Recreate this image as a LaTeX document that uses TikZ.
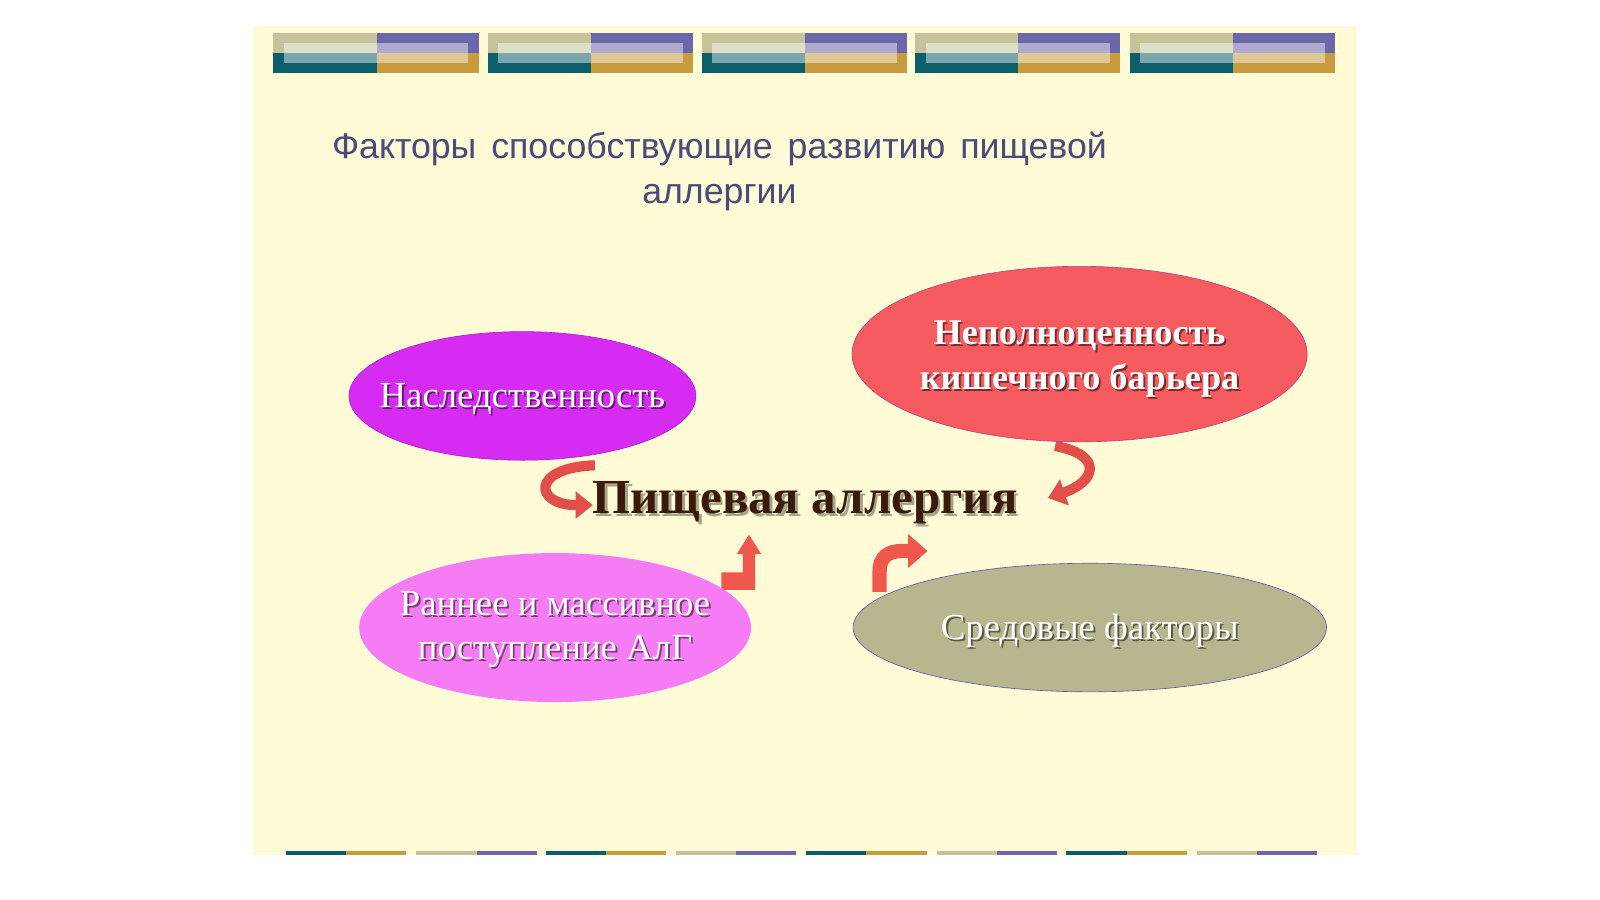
\documentclass[tikz,border=0pt]{standalone}
\usepackage{fontspec}
\setmainfont{Liberation Serif}
\newfontfamily\titlefont[WordSpace={1.5,0.5,0.5}]{Liberation Sans}
\usetikzlibrary{arrows.meta,shapes.geometric}
\definecolor{slidebg}{HTML}{FFFBD6}
\definecolor{bkhaki}{HTML}{C6C39A}
\definecolor{bblue}{HTML}{6B67A9}
\definecolor{bteal}{HTML}{0B5F6B}
\definecolor{bgold}{HTML}{C89B3E}
\definecolor{titlecol}{HTML}{4A4A7C}
\definecolor{emag}{HTML}{D62BF3}
\definecolor{ered}{HTML}{F45A5E}
\definecolor{epink}{HTML}{F67CF5}
\definecolor{ekhaki}{HTML}{B7B68F}
\definecolor{arrowred}{HTML}{F0584E}
\definecolor{curvered}{HTML}{E24E4A}
\definecolor{brown}{HTML}{3A1A0A}
\tikzset{
  blob/.style={ellipse, inner sep=0pt},
  etext/.style={text=white, align=center, font=\fontsize{36}{43}\selectfont},
  eshadow/.style={text=black, text opacity=0.5, align=center, font=\fontsize{36}{43}\selectfont},
  curvearrow/.style={draw=curvered, line width=10pt, -{Triangle[width=26pt,length=17pt]}},
  bigarrow/.style={draw=arrowred, line width=14pt, -{Triangle[width=32pt,length=19pt]}}
}
\begin{document}
\begin{tikzpicture}[x=1pt,y=-1pt]
\useasboundingbox (0,0) rectangle (1568,882);
\fill[white] (0,0) rectangle (1568,882);
\fill[slidebg] (248,25) rectangle (1330,838);

% top banner
\foreach \x in {268,478,688,897,1107}{
  \fill[bkhaki] (\x,32) rectangle (\x+101,51.5);
  \fill[bblue] (\x+101,32) rectangle (\x+201,51.5);
  \fill[bteal] (\x,51.5) rectangle (\x+101,71.5);
  \fill[bgold] (\x+101,51.5) rectangle (\x+201,71.5);
  \fill[white, opacity=0.45] (\x+10,42) rectangle (\x+191,62);
}
% bottom stripe
\foreach \x in {280,535,790,1045}{
  \fill[bteal] (\x,834) rectangle (\x+59,837.5);
  \fill[bgold] (\x+59,834) rectangle (\x+118,837.5);
}
\foreach \x in {408,662,918,1173}{
  \fill[bkhaki] (\x,834) rectangle (\x+59,837.5);
  \fill[bblue] (\x+59,834) rectangle (\x+118,837.5);
}

% title
\node[text=titlecol, align=center, font=\titlefont\fontsize{35}{44}\selectfont] (title) at (705,168)
  {Факторы способствующие развитию пищевой\\аллергии};

% arrows (behind ellipses)
\coordinate (la1) at (583,456);
\coordinate (la2) at (581,495);
\draw[curvearrow] (la1) .. controls (520,458) and (523,495) .. (la2);
\coordinate (ra1) at (1034,437);
\coordinate (ra2) at (1027,488);
\draw[curvearrow] (ra1) .. controls (1082,446) and (1074,472) .. (ra2);
\coordinate (ba1) at (862,580);
\coordinate (ba2) at (909,540);
\draw[bigarrow] (ba1) -- (862,560) .. controls (862,546) and (870,540) .. (884,540) -- (ba2);
\fill[arrowred] (707,578) -- (740,578) -- (740,543) -- (746,543) -- (734,524) -- (722,543)
  -- (728,543) -- (728,561) -- (707,561) -- cycle;

% ellipses
\node[blob, fill=emag, draw=emag!80!black, line width=0.6pt, minimum width=340pt, minimum height=126pt] (e1) at (512,388) {};
\node[blob, fill=ered, draw=ered!75!blue, line width=0.6pt, minimum width=446pt, minimum height=172pt] (e2) at (1058,347) {};
\node[blob, fill=epink, minimum width=384pt, minimum height=146pt] (e3) at (544,615) {};
\node[blob, fill=ekhaki, draw=gray!70!blue, line width=0.6pt, minimum width=464pt, minimum height=126pt] (e4) at (1068,615) {};

% ellipse texts
\node[eshadow] (t1s) at ([shift={(1.8,4.8)}]e1) {Наследственность};
\node[etext] (t1) at ([shift={(0,3)}]e1) {Наследственность};
\node[eshadow, font=\bfseries\fontsize{35.5}{44}\selectfont] (t2s) at ([shift={(1.8,6.8)}]e2) {Неполноценность\\кишечного барьера};
\node[etext, font=\bfseries\fontsize{35.5}{44}\selectfont] (t2) at ([shift={(0,5)}]e2) {Неполноценность\\кишечного барьера};
\node[eshadow] (t3s) at ([shift={(1.8,3.8)}]e3) {Раннее и массивное\\поступление АлГ};
\node[etext] (t3) at ([shift={(0,2)}]e3) {Раннее и массивное\\поступление АлГ};
\node[eshadow] (t4s) at ([shift={(1.8,4.8)}]e4) {Средовые факторы};
\node[etext] (t4) at ([shift={(0,3)}]e4) {Средовые факторы};

% central text
\node[text=black, text opacity=0.35, font=\bfseries\fontsize{48}{52}\selectfont] (pas) at (791.5,495.5) {Пищевая аллергия};
\node[text=brown, font=\bfseries\fontsize{48}{52}\selectfont] (pa) at (789,493) {Пищевая аллергия};
\end{tikzpicture}
\end{document}
